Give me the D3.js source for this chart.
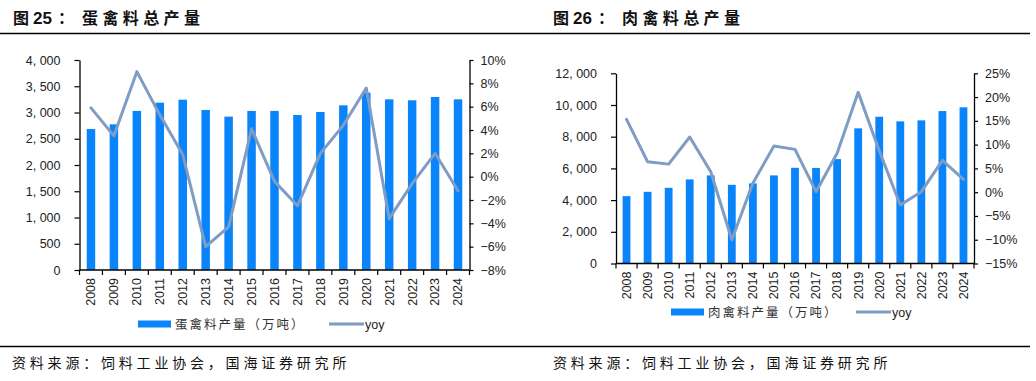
<!DOCTYPE html>
<html><head><meta charset="utf-8">
<script src="https://cdn.jsdelivr.net/npm/d3@7"></script>
<style>
html,body{margin:0;padding:0;background:#fff;}
svg{display:block;}
</style></head>
<body>
<svg id="c" width="1036" height="381"></svg>
<script>
const years = ["2008","2009","2010","2011","2012","2013","2014","2015","2016","2017","2018","2019","2020","2021","2022","2023","2024"];

// 图25 蛋禽料总产量 (万吨) and yoy (%)
const eggFeed = [2685, 2775, 3030, 3187, 3244, 3048, 2921, 3030, 3030, 2952, 3010, 3137, 3378, 3251, 3232, 3295, 3251];
const eggYoy  = [5.9, 3.5, 9.0, 5.3, 1.9, -6.0, -4.3, 4.1, -0.4, -2.5, 2.0, 4.4, 7.6, -3.6, -0.6, 2.0, -1.2];
const eggLeftTicks = [0, 500, 1000, 1500, 2000, 2500, 3000, 3500, 4000];
const eggLeftLabels = ["0", "500", "1, 000", "1, 500", "2, 000", "2, 500", "3, 000", "3, 500", "4, 000"];
const eggRightTicks = [-8, -6, -4, -2, 0, 2, 4, 6, 8, 10];
const eggRightLabels = ["−8%", "−6%", "−4%", "−2%", "0%", "2%", "4%", "6%", "8%", "10%"];

// 图26 肉禽料总产量 (万吨) and yoy (%)
const meatFeed = [4250, 4522, 4775, 5305, 5558, 4964, 5053, 5558, 6038, 6030, 6587, 8526, 9259, 8968, 9032, 9619, 9853];
const meatYoy  = [15.3, 6.4, 5.9, 11.6, 4.3, -10.0, 1.9, 9.7, 9.0, 0.1, 8.2, 21.0, 8.7, -2.7, 0.1, 6.7, 2.7];
const meatLeftTicks = [0, 2000, 4000, 6000, 8000, 10000, 12000];
const meatLeftLabels = ["0", "2, 000", "4, 000", "6, 000", "8, 000", "10, 000", "12, 000"];
const meatRightTicks = [-15, -10, -5, 0, 5, 10, 15, 20, 25];
const meatRightLabels = ["−15%", "−10%", "−5%", "0%", "5%", "10%", "15%", "20%", "25%"];

const BAR = "#0a84fb";
const LINE = "#7f9cc4";
const svg = d3.select("#c");
const NUM_FONT = "'Liberation Sans', Arial, sans-serif";
const CJK_FONT = "'Noto Sans CJK SC', sans-serif";

// header / footer rules
svg.append("line").attr("x1",0).attr("x2",1030).attr("y1",33.5).attr("y2",33.5).attr("stroke","#000").attr("stroke-width",1.3);
svg.append("line").attr("x1",0).attr("x2",1030).attr("y1",346.5).attr("y2",346.5).attr("stroke","#000").attr("stroke-width",1.3);

function title(x, num, rest){
  const t = svg.append("text").attr("y",24).attr("font-size",16).attr("font-weight","bold").attr("fill","#111");
  t.append("tspan").attr("x",x).attr("font-family",CJK_FONT).text("图");
  t.append("tspan").attr("x",x+20).attr("font-family",NUM_FONT).attr("font-size",17).text(num);
  t.append("tspan").attr("x",x+45).attr("font-family",CJK_FONT).text("：");
  t.append("tspan").attr("x",x+69).attr("font-family",CJK_FONT).attr("letter-spacing",4.4).text(rest);
}
title(13, "25", "蛋禽料总产量");
title(553, "26", "肉禽料总产量");

function footer(x){
  svg.append("text").attr("x",x).attr("y",368).attr("font-family",CJK_FONT).attr("font-size",14)
    .attr("letter-spacing",3.8).attr("fill","#111").text("资料来源：饲料工业协会，国海证券研究所");
}
footer(12);
footer(553);

function chart(o){
  const g = svg.append("g");
  const x = d3.scaleBand().domain(years).range([o.x0, o.x1]).paddingInner(0).paddingOuter(0);
  const yL = d3.scaleLinear().domain([o.leftTicks[0], o.leftTicks[o.leftTicks.length-1]]).range([o.yb, o.yt]);
  const yR = d3.scaleLinear().domain([o.rightTicks[0], o.rightTicks[o.rightTicks.length-1]]).range([o.yb, o.yt]);
  const bw = x.bandwidth()*0.37;

  g.selectAll("rect.bar").data(o.bars).join("rect").attr("class","bar")
    .attr("x",(d,i)=>x(years[i]) + x.bandwidth()/2 - bw/2)
    .attr("width",bw)
    .attr("y",d=>yL(d))
    .attr("height",d=>yL(0)-yL(d))
    .attr("fill",BAR);

  const line = d3.line().x((d,i)=>x(years[i])+x.bandwidth()/2).y(d=>yR(d));
  g.append("path").datum(o.yoy).attr("d",line).attr("fill","none").attr("stroke",LINE)
    .attr("stroke-width",3).attr("stroke-linejoin","round").attr("stroke-linecap","round");

  // left axis
  const ax = g.append("g").attr("transform",`translate(${o.x0},0)`)
    .call(d3.axisLeft(yL).tickValues(o.leftTicks).tickFormat((d,i)=>o.leftLabels[i]).tickSize(5).tickPadding(o.lpad).tickSizeOuter(0));
  const axR = g.append("g").attr("transform",`translate(${o.x1},0)`)
    .call(d3.axisRight(yR).tickValues(o.rightTicks).tickFormat((d,i)=>o.rightLabels[i]).tickSize(4).tickPadding(7).tickSizeOuter(0));
  [ax, axR].forEach(a=>{
    a.selectAll("path.domain").attr("stroke","#000").attr("stroke-width",1.3);
    a.selectAll(".tick line").attr("stroke","#000").attr("stroke-width",1.2);
    a.selectAll("text").attr("font-family",NUM_FONT).attr("font-size",12.5).attr("fill","#222");
  });

  // x axis
  const xb = g.append("g");
  xb.append("line").attr("x1",o.x0).attr("x2",o.x1).attr("y1",o.yb).attr("y2",o.yb).attr("stroke","#000").attr("stroke-width",1.3);
  const bounds = years.map(d=>x(d)).concat([o.x1]);
  xb.selectAll("line.t").data(bounds).join("line").attr("class","t")
    .attr("x1",d=>d).attr("x2",d=>d).attr("y1",o.yb).attr("y2",o.yb+5).attr("stroke","#000").attr("stroke-width",1.2);
  xb.selectAll("text").data(years).join("text")
    .attr("transform",d=>`translate(${x(d)+x.bandwidth()/2},${o.yb+8}) rotate(-90)`)
    .attr("text-anchor","end").attr("dy","0.35em")
    .attr("font-family",NUM_FONT).attr("font-size",12.5).attr("fill","#222").text(d=>d);

  // legend
  const lg = g.append("g");
  lg.append("rect").attr("x",o.lgx).attr("y",o.lgy-3.5).attr("width",33).attr("height",7).attr("fill",BAR);
  lg.append("text").attr("x",o.lgx+37).attr("y",o.lgy+4.5).attr("font-family",CJK_FONT).attr("font-size",12.5)
    .attr("letter-spacing",2).attr("fill","#333").text(o.legendText);
  lg.append("line").attr("x1",o.lgx2).attr("x2",o.lgx2+35).attr("y1",o.lgy).attr("y2",o.lgy).attr("stroke",LINE).attr("stroke-width",3);
  lg.append("text").attr("x",o.lgx2+36).attr("y",o.lgy+4.5).attr("font-family",NUM_FONT).attr("font-size",12.5)
    .attr("fill","#222").text("yoy");
}

chart({x0:79.5, x1:469.5, yt:60, yb:270, bars:eggFeed, yoy:eggYoy,
  leftTicks:eggLeftTicks, leftLabels:eggLeftLabels, rightTicks:eggRightTicks, rightLabels:eggRightLabels,
  lpad:14, lgx:138, lgy:324, lgx2:329, legendText:"蛋禽料产量（万吨）"});
chart({x0:616, x1:974, yt:73.3, yb:263.5, bars:meatFeed, yoy:meatYoy,
  leftTicks:meatLeftTicks, leftLabels:meatLeftLabels, rightTicks:meatRightTicks, rightLabels:meatRightLabels,
  lpad:14, lgx:671, lgy:312, lgx2:856, legendText:"肉禽料产量（万吨）"});
</script>
</body></html>
